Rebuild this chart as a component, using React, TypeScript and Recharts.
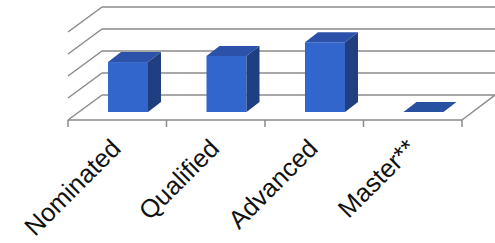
import { BarChart, Bar, XAxis, YAxis, CartesianGrid } from 'recharts';

const categories = ['Nominated', 'Qualified', 'Advanced', 'Master**'];
const counts = [22.7, 25.5, 31.7, 0];
const yTicks = [0, 10, 20, 30, 40];

const data = categories.map((name, i) => ({ name, value: counts[i] }));

// oblique projection: floor front -> back wall
const DEPTH_X = 34;
const DEPTH_Y = 25;
// bar front face sits a bit into the floor, bar has its own depth
const BAR_OFF_X = 11;
const BAR_OFF_Y = 8;
const BAR_DX = 13;
const BAR_DY = 10;

const GRID = '#8a8a8a';

function GridLine(props: any) {
  const { x1, y1, x2, y2 } = props;
  const isFloor = y1 >= 119;
  return (
    <g>
      <line x1={x1 + DEPTH_X} y1={y1 - DEPTH_Y} x2={x2 + 33} y2={y2 - DEPTH_Y} stroke={GRID} strokeWidth={1.5} />
      <line x1={x1} y1={y1} x2={x1 + DEPTH_X} y2={y1 - DEPTH_Y} stroke={GRID} strokeWidth={1.5} />
      {isFloor && (
        <line x1={x2} y1={y2} x2={x2 + 33} y2={y2 - DEPTH_Y} stroke={GRID} strokeWidth={1.5} />
      )}
    </g>
  );
}

function Box3D(props: any) {
  const { x, y, width, height } = props;
  const fx = x + BAR_OFF_X;
  const fy = y - BAR_OFF_Y;
  const h = Math.max(0, height);
  const top = `${fx},${fy} ${fx + width},${fy} ${fx + width + BAR_DX},${fy - BAR_DY} ${fx + BAR_DX},${fy - BAR_DY}`;
  const side = `${fx + width},${fy} ${fx + width + BAR_DX},${fy - BAR_DY} ${fx + width + BAR_DX},${fy - BAR_DY + h} ${fx + width},${fy + h}`;
  return (
    <g>
      {h > 0 && <rect x={fx} y={fy} width={width} height={h} fill="#3366cc" />}
      {h > 0 && <polygon points={side} fill="#1f3f80" />}
      <polygon points={top} fill={h > 0 ? '#2b52a8' : '#2850a0'} />
    </g>
  );
}

function CategoryTick(props: any) {
  const { x, y, payload } = props;
  const off = payload?.offset ?? 49.25;
  const last = payload?.index === categories.length - 1;
  const tx = x + 5;
  const ty = y + 22;
  return (
    <g>
      <line x1={x - off} y1={y - 8} x2={x - off} y2={y - 1} stroke={GRID} strokeWidth={1.5} />
      {last && <line x1={x + off} y1={y - 8} x2={x + off} y2={y - 1} stroke={GRID} strokeWidth={1.5} />}
      <text
        x={tx}
        y={ty}
        textAnchor="end"
        transform={`rotate(-45, ${tx}, ${ty})`}
        fontFamily="'Liberation Sans', Arial, sans-serif"
        fontSize={25.5}
        fill="#111"
      >
        {payload.value}
      </text>
    </g>
  );
}

export default function App() {
  return (
    <div style={{ position: 'absolute', left: 0, top: 0, width: 495, height: 243, background: '#fff' }}>
      <BarChart width={495} height={243} data={data} margin={{ top: 32, right: 33, left: 68, bottom: 0 }}>
        <CartesianGrid vertical={false} horizontal={(p: any) => <GridLine key={p.key} {...p} />} />
        <YAxis hide domain={[0, 40]} ticks={yTicks} interval={0} />
        <XAxis
          dataKey="name"
          height={123}
          interval={0}
          tickLine={false}
          axisLine={{ stroke: GRID, strokeWidth: 1.5 }}
          tick={<CategoryTick />}
        />
        <Bar dataKey="value" barSize={40} shape={<Box3D />} isAnimationActive={false} />
      </BarChart>
    </div>
  );
}
